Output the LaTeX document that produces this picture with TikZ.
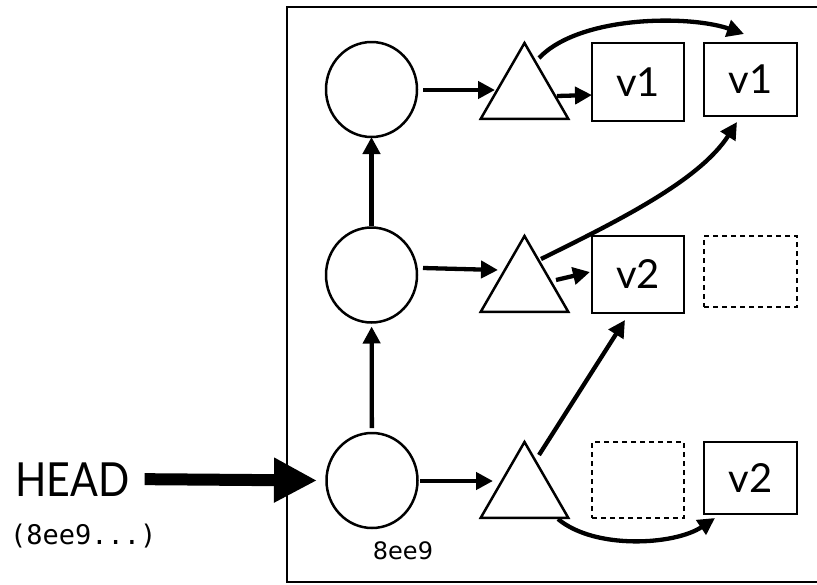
\documentclass[tikz,border=0pt]{standalone}
\usepackage{fontspec}
\setmainfont{Lato}
\newfontfamily\djsans{DejaVu Sans}
\newfontfamily\djmono{DejaVu Sans Mono}
\usetikzlibrary{arrows.meta,shapes.geometric,calc}
\tikzset{
  commit/.style={draw, line width=2.5pt, ellipse, minimum width=91pt, minimum height=95pt, inner sep=0pt, outer sep=0pt},
  tree/.style={draw, line width=2.5pt, regular polygon, regular polygon sides=3, minimum size=101pt, inner sep=0pt, outer sep=0pt},
  blob/.style={draw, line width=2.5pt, rectangle, inner sep=0pt, outer sep=0pt, font=\fontsize{40}{40}\selectfont},
  ghost/.style={blob, dash pattern=on 5pt off 4pt},
  arr/.style={line width=4.3pt, -{Triangle[length=17pt,width=17pt]}},
  bigarr/.style={line width=12pt, -{Triangle[length=43pt,width=42pt]}},
}
\begin{document}
\begin{tikzpicture}[x=1pt,y=-1pt]
\useasboundingbox (0,0) rectangle (817,584);
% frame (right edge lies beyond the picture)
\draw[line width=2.5pt] (818,7) -- (287,7) -- (287,582) -- (818,582);

% commits
\node[commit] (c3) at (371.5,89.5) {};
\node[commit] (c2) at (371.5,275) {};
\node[commit] (c1) at (372,480.5) {};
% trees
\node[tree] (t3) at (524.5,93.5) {};
\node[tree] (t2) at (524.5,286.5) {};
\node[tree] (t1) at (524.5,492.5) {};
% blobs
\node[blob, minimum width=92pt, minimum height=78pt] (b31) at (638,82) {v1};
\node[blob, minimum width=93pt, minimum height=73pt] (b32) at (750.5,79.5) {v1};
\node[blob, minimum width=92pt, minimum height=77pt] (b21) at (638,274.5) {v2};
\node[ghost, minimum width=93pt, minimum height=71pt] (b22) at (750.5,271.5) {};
\node[ghost, minimum width=92pt, minimum height=76pt] (b11) at (638,480) {};
\node[blob, minimum width=93pt, minimum height=72pt] (b12) at (750.5,478) {v2};

% labels
\node[anchor=base west, inner sep=0pt, font=\fontsize{47}{47}\selectfont] (head) at (15,496) {\scalebox{0.875}[1]{HEAD}};
\node[anchor=base west, inner sep=0pt, font=\djmono\fontsize{27}{27}\selectfont] (hash) at (10,544.5) {(8ee9...)};
\node[anchor=base, inner sep=0pt, font=\djsans\fontsize{24}{24}\selectfont] (c1lab) at (403,559) {8ee9};

% HEAD pointer
\draw[bigarr] ([xshift=15pt]head.east) -- ([xshift=-9.5pt]c1.west);

% parent links
\draw[arr, shorten <=5pt, shorten >=4pt] (c1) -- (c2);
\draw[arr, shorten <=2pt] (c2) -- (c3);

% commit -> tree
\draw[arr] ($(c3)+(51.5,0.5)$) -- ($(t3)+(-29.5,-3.5)$);
\draw[arr] ($(c2)+(51.5,-7)$) -- ($(t2)+(-26.5,-16.5)$);
\draw[arr] ($(c1)+(48,0.5)$) -- ($(t1)+(-31.5,-11.5)$);

% tree -> blob
\draw[arr] ($(t3)+(32.5,2.5)$) -- ($(b31)+(-46,13)$);
\draw[arr] ($(t2)+(31.5,-6.5)$) -- ($(b21)+(-48,-2.5)$);
\draw[arr] ($(t1)+(14.5,-37.5)$) -- ($(b21)+(-13,45.5)$);
\draw[arr] ($(t3)+(14.5,-35.5)$) .. controls +(41,-43) and +(-54,-19) .. ($(b32)+(-6.5,-45.5)$);
\draw[arr] ($(t2)+(16.5,-27.5)$) .. controls +(79,-39) and +(-37,58) .. ($(b32)+(-13.5,42.5)$);
\draw[arr] ($(t1)+(33.5,26.5)$) .. controls +(37,31) and +(-40,27) .. ($(b12)+(-35.5,40)$);
\end{tikzpicture}
\end{document}
